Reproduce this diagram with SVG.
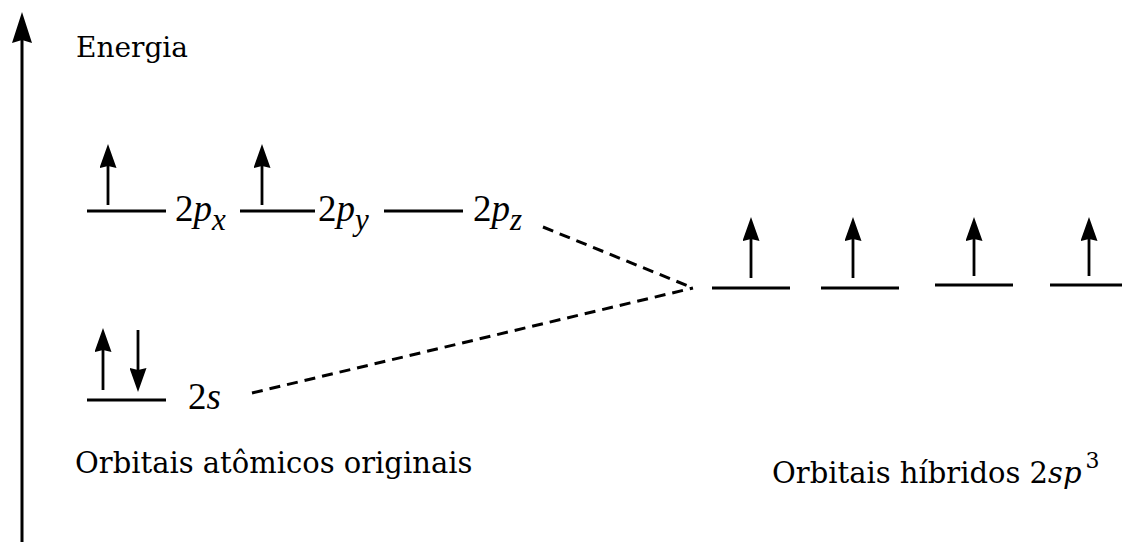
<svg xmlns="http://www.w3.org/2000/svg" width="1122" height="542" viewBox="0 0 1122 542">
<style>
.lvl{stroke:#000;stroke-width:3;fill:none}
.e{stroke:#000;stroke-width:2.8;fill:none;marker-end:url(#ah)}
.dash{stroke:#000;stroke-width:3;fill:none;stroke-dasharray:11 7}
.t{font-family:"DejaVu Serif",serif;font-size:29px;fill:#000}
.m{font-family:"Liberation Serif","Times New Roman",serif;font-size:37px;fill:#000}
.i{font-style:italic}
.sub{font-size:31px;font-style:italic}
</style>
<defs>
<marker id="ah" markerUnits="userSpaceOnUse" viewBox="0 0 24 17" refX="14" refY="8.5" markerWidth="24" markerHeight="17" orient="auto">
<path d="M0,0 L24,8.5 L0,17 L2,8.5 z" fill="#000"/>
</marker>
</defs>
<rect width="1122" height="542" fill="#fff"/>
<g id="axis">
<line x1="22" y1="542" x2="22" y2="38" stroke="#000" stroke-width="3"/>
<path d="M22,12 L32,43 L22,40 L12,43 z" fill="#000"/>
<text class="t" x="76" y="57" style="font-size:28px">Energia</text>
</g>
<g id="connectors">
<line class="dash" x1="543" y1="227" x2="693" y2="288"/>
<line class="dash" x1="252" y1="393" x2="693" y2="288"/>
</g>
<g id="orb-2px">
<line class="lvl" x1="87" y1="211" x2="166" y2="211"/>
<line class="e" x1="108" y1="205" x2="108" y2="154"/>
<text class="m" x="175" y="221">2<tspan class="i">p</tspan><tspan class="sub" dy="9">x</tspan></text>
</g>
<g id="orb-2py">
<line class="lvl" x1="240" y1="211" x2="315" y2="211"/>
<line class="e" x1="262" y1="205" x2="262" y2="154"/>
<text class="m" x="318" y="221">2<tspan class="i">p</tspan><tspan class="sub" dy="9">y</tspan></text>
</g>
<g id="orb-2pz">
<line class="lvl" x1="384" y1="211" x2="463" y2="211"/>
<text class="m" x="473" y="221">2<tspan class="i">p</tspan><tspan class="sub" dy="9">z</tspan></text>
</g>
<g id="orb-2s">
<line class="lvl" x1="87" y1="400" x2="166" y2="400"/>
<line class="e" x1="103" y1="390" x2="103" y2="338"/>
<line class="e" x1="138" y1="330" x2="138" y2="382"/>
<text class="m" x="188" y="409">2<tspan class="i">s</tspan></text>
</g>
<g id="hyb-1">
<line class="lvl" x1="712" y1="288" x2="790" y2="288"/>
<line class="e" x1="751" y1="278" x2="751" y2="227"/>
</g>
<g id="hyb-2">
<line class="lvl" x1="821" y1="288" x2="899" y2="288"/>
<line class="e" x1="853" y1="278" x2="853" y2="227"/>
</g>
<g id="hyb-3">
<line class="lvl" x1="935" y1="285" x2="1013" y2="285"/>
<line class="e" x1="974" y1="276" x2="974" y2="227"/>
</g>
<g id="hyb-4">
<line class="lvl" x1="1050" y1="285" x2="1122" y2="285"/>
<line class="e" x1="1089" y1="276" x2="1089" y2="227"/>
</g>
<g id="labels">
<text class="t" x="75" y="473">Orbitais atômicos originais</text>
<text class="t" x="772" y="483">Orbitais híbridos 2<tspan class="i">sp</tspan><tspan dx="4" dy="-15" style="font-size:22px">3</tspan></text>
</g>
</svg>
